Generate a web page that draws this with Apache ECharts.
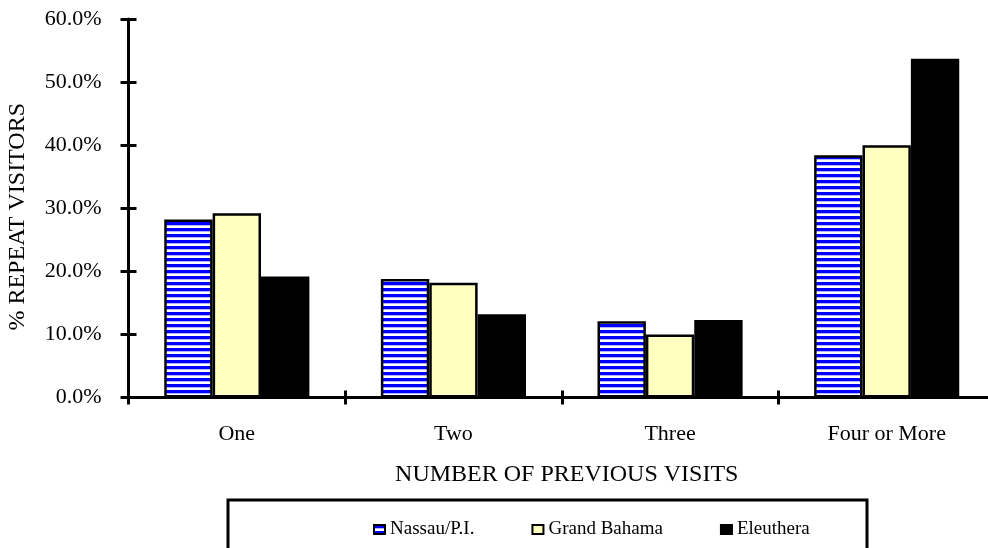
<!DOCTYPE html>
<html>
<head>
<meta charset="utf-8">
<script src="https://cdn.jsdelivr.net/npm/echarts@6/dist/echarts.min.js"></script>
<style>
  html, body { margin: 0; padding: 0; background: #fff; }
  #chart { width: 988px; height: 548px; }
</style>
</head>
<body>
<div id="chart"></div>
<script>
// Share of repeat visitors by number of previous visits, per island group
const categories = ['One', 'Two', 'Three', 'Four or More'];
const seriesNames = ['Nassau/P.I.', 'Grand Bahama', 'Eleuthera'];
const nassau = [28.2, 18.8, 12.1, 38.4];
const grandBahama = [29.2, 18.2, 10.0, 40.0];
const eleuthera = [19.2, 13.2, 12.3, 53.7];
const yTicks = [0, 10, 20, 30, 40, 50, 60];

const FONT = '"Liberation Serif", "Times New Roman", serif';

// Horizontal blue/white stripe fill
function stripePattern() {
  const c = document.createElement('canvas');
  c.width = 4; c.height = 6;
  const g = c.getContext('2d');
  const rows = ['#0000ff', '#0000ff', '#0000ff', '#b4b4ff', '#ffffff', '#ffffff'];
  rows.forEach((col, i) => { g.fillStyle = col; g.fillRect(0, i, 4, 1); });
  return { image: c, repeat: 'repeat' };
}

const chart = echarts.init(document.getElementById('chart'), null, { renderer: 'canvas' });

const yMin = yTicks[0];
const yMax = yTicks[yTicks.length - 1];
const yStep = yTicks[1] - yTicks[0];

const lineStyle = { color: '#000', width: 3 };
const tickStyle = { color: '#000', width: 3 };

const option = {
  backgroundColor: '#fff',
  animation: false,
  grid: {
    left: 128.5, right: -7, top: 19, bottom: 150.5,
    containLabel: false, outerBoundsMode: 'none'
  },
  xAxis: [
    {
      type: 'category',
      data: categories,
      position: 'bottom',
      axisLine: { lineStyle: lineStyle },
      axisTick: { show: true, length: 7, lineStyle: tickStyle },
      axisLabel: { fontFamily: FONT, fontSize: 22, color: '#000', margin: 26 },
      name: 'NUMBER OF PREVIOUS VISITS',
      nameLocation: 'middle',
      nameGap: 65,
      nameTextStyle: { fontFamily: FONT, fontSize: 24, color: '#000', padding: [0, 0, 0, 10] },
      splitLine: { show: false }
    },
    {
      type: 'category',
      data: categories,
      position: 'bottom',
      axisLine: { show: false },
      axisTick: { show: true, inside: true, length: 7, lineStyle: tickStyle },
      axisLabel: { show: false },
      splitLine: { show: false }
    }
  ],
  yAxis: [
    {
      type: 'value',
      min: yMin, max: yMax, interval: yStep,
      position: 'left',
      axisLine: { show: true, lineStyle: lineStyle },
      axisTick: { show: true, length: 8, lineStyle: tickStyle },
      axisLabel: {
        fontFamily: FONT, fontSize: 22, color: '#000', margin: 27,
        formatter: v => v.toFixed(1) + '%'
      },
      splitLine: { show: false },
      name: '% REPEAT VISITORS',
      nameLocation: 'middle',
      nameGap: 99,
      nameRotate: 90,
      nameTextStyle: { fontFamily: FONT, fontSize: 24, color: '#000', padding: [0, 17, 0, 0] }
    },
    {
      type: 'value',
      min: yMin, max: yMax, interval: yStep,
      position: 'left',
      offset: 0,
      axisLine: { show: false },
      axisTick: { show: true, inside: true, length: 8, lineStyle: tickStyle },
      axisLabel: { show: false },
      splitLine: { show: false }
    }
  ],
  legend: {
    data: seriesNames,
    left: 373,
    top: 520,
    padding: 0,
    itemWidth: 11,
    itemHeight: 9,
    itemGap: 57,
    icon: 'rect',
    textStyle: { fontFamily: FONT, fontSize: 19, color: '#000' },
    selectedMode: false
  },
  graphic: [
    {
      type: 'rect',
      shape: { x: 228, y: 500, width: 639, height: 70 },
      style: { fill: 'none', stroke: '#000', lineWidth: 3 },
      silent: true,
      z: 10
    }
  ],
  series: [
    {
      name: seriesNames[0], type: 'bar', data: nassau,
      barGap: '0%', barCategoryGap: '33%',
      itemStyle: { color: stripePattern(), borderColor: '#000', borderWidth: 2.5 }
    },
    {
      name: seriesNames[1], type: 'bar', data: grandBahama,
      itemStyle: { color: '#ffffc0', borderColor: '#000', borderWidth: 2.5 }
    },
    {
      name: seriesNames[2], type: 'bar', data: eleuthera,
      itemStyle: { color: '#000', borderColor: '#000', borderWidth: 2.5 }
    }
  ]
};

chart.setOption(option);
</script>
</body>
</html>
